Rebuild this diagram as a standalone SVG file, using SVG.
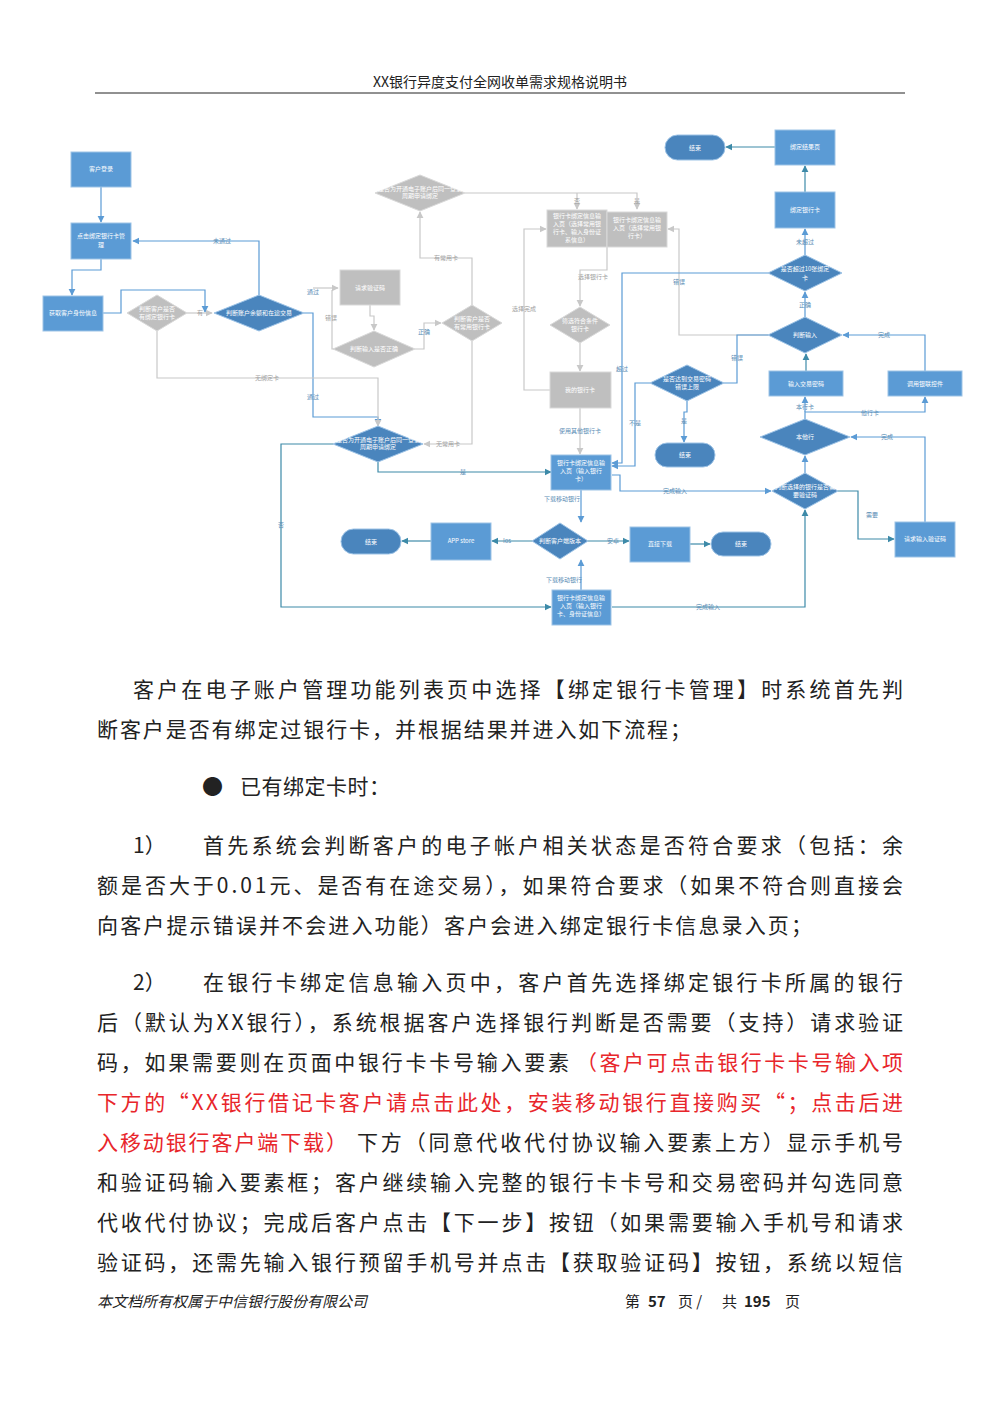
<svg xmlns="http://www.w3.org/2000/svg" width="1000" height="1415" viewBox="0 0 1000 1415">
<style>
.b{fill:#5b9bd5;stroke:#9dc3e6;stroke-width:1}
.d{fill:#4a85bd;stroke:#9dc3e6;stroke-width:1}
.g{fill:#bfbfbf;stroke:#d9d9d9;stroke-width:1}
.t{font-family:"Noto Sans CJK SC","Noto Sans",sans-serif;font-size:6px;fill:#fff;text-anchor:middle}
.l{font-family:"Noto Sans CJK SC",sans-serif;font-size:6px;fill:#5b8db5;text-anchor:middle}
.lg{font-family:"Noto Sans CJK SC",sans-serif;font-size:6px;fill:#a0a0a0;text-anchor:middle}
.cb{fill:none;stroke:#5b9bd5;stroke-width:1.2}
.cg{fill:none;stroke:#c8c8c8;stroke-width:1.2}
.ct{fill:none;stroke:#3d8aa8;stroke-width:1.2}
.p{font-family:"Noto Sans CJK SC","Noto Serif CJK SC",serif;font-size:21px;fill:#222}
.r{fill:#e8262b}
.f{font-family:"Noto Sans CJK SC",serif;font-size:15px;fill:#222}
</style>
<defs>
<marker id="ab" viewBox="0 0 10 10" refX="9" refY="5" markerWidth="6" markerHeight="6" orient="auto"><path d="M0,0L10,5L0,10z" fill="#5b9bd5"/></marker>
<marker id="ag" viewBox="0 0 10 10" refX="9" refY="5" markerWidth="6" markerHeight="6" orient="auto"><path d="M0,0L10,5L0,10z" fill="#c8c8c8"/></marker>
<marker id="at" viewBox="0 0 10 10" refX="9" refY="5" markerWidth="6" markerHeight="6" orient="auto"><path d="M0,0L10,5L0,10z" fill="#3d8aa8"/></marker>
</defs>
<rect width="1000" height="1415" fill="#fff"/>
<text x="500" y="87" font-family="Noto Sans CJK SC,serif" font-size="14" fill="#222" text-anchor="middle">XX银行异度支付全网收单需求规格说明书</text>
<line x1="95" y1="93" x2="905" y2="93" stroke="#222" stroke-width="1"/>

<g id="connectors">
<path class="cb" d="M101,187V222" marker-end="url(#ab)"/>
<path class="cb" d="M101,259V270H72V295" marker-end="url(#ab)"/>
<path class="cb" d="M103,313H121V290H205V312" marker-end="url(#ab)"/>
<path class="cg" d="M187,313H212" marker-end="url(#ag)"/>
<path class="cb" d="M259,295V241H133" marker-end="url(#ab)"/>
<path class="cb" d="M304,313H313V417H378V425" marker-end="url(#ab)"/>
<path class="cg" d="M313,288H338" marker-end="url(#ag)"/>
<path class="cg" d="M370,305V316H374V330" marker-end="url(#ag)"/>
<path class="cg" d="M334,349H332V290" />
<path class="cg" d="M415,349H424V323H441" marker-end="url(#ag)"/>
<path class="cg" d="M157,331V378H378V426" marker-end="url(#ag)"/>
<path class="cg" d="M472,305V258H420V212" marker-end="url(#ag)"/>
<path class="cg" d="M472,341V444H424" marker-end="url(#ag)"/>
<path class="cg" d="M465,193H637V209" marker-end="url(#ag)"/>
<path class="cg" d="M577,193V209" marker-end="url(#ag)"/>
<path class="cg" d="M607,247V270H580V306" marker-end="url(#ag)"/>
<path class="cg" d="M580,343V371" marker-end="url(#ag)"/>
<path class="cg" d="M550,390H524V229H546" marker-end="url(#ag)"/>
<path class="cg" d="M580,408V454" marker-end="url(#ag)"/>
<path class="cg" d="M768,335H679V229H668" marker-end="url(#ag)"/>
<path class="ct" d="M333,444H281V607H551" marker-end="url(#at)"/>
<path class="ct" d="M378,462V472H551" marker-end="url(#at)"/>
<path class="cb" d="M768,273H622V463H612" marker-end="url(#ab)"/>
<path class="cb" d="M650,383H635V466H612" marker-end="url(#ab)"/>
<path class="cb" d="M768,335H737V383H724"/>
<path class="cb" d="M687,401V412H684V442" marker-end="url(#ab)"/>
<path class="cb" d="M612,475H620V491H771" marker-end="url(#ab)"/>
<path class="cb" d="M581,490V522" marker-end="url(#ab)"/>
<path class="cb" d="M581,590V560" marker-end="url(#ab)"/>
<path class="ct" d="M532,541H492" marker-end="url(#at)"/>
<path class="ct" d="M431,541H402" marker-end="url(#at)"/>
<path class="ct" d="M588,541H629" marker-end="url(#at)"/>
<path class="ct" d="M690,544H710" marker-end="url(#at)"/>
<path class="ct" d="M612,607H805V510" marker-end="url(#at)"/>
<path class="ct" d="M838,491H858V539H894" marker-end="url(#at)"/>
<path class="cb" d="M925,522V437H851" marker-end="url(#ab)"/>
<path class="cb" d="M805,473V456" marker-end="url(#ab)"/>
<path class="cb" d="M805,419V412H925V397" marker-end="url(#ab)"/>
<path class="cb" d="M805,412V397" marker-end="url(#ab)"/>
<path class="ct" d="M806,371V354" marker-end="url(#at)"/>
<path class="cb" d="M925,371V335H843" marker-end="url(#ab)"/>
<path class="cb" d="M805,317V292" marker-end="url(#ab)"/>
<path class="cb" d="M805,255V229" marker-end="url(#ab)"/>
<path class="ct" d="M805,192V166" marker-end="url(#at)"/>
<path class="ct" d="M775,147H726" marker-end="url(#at)"/>
<g>
<text class="l" x="222" y="243">未通过</text>
<text class="lg" x="200" y="315">有</text>
<text class="l" x="313" y="294">通过</text>
<text class="l" x="313" y="399">通过</text>
<text class="lg" x="331" y="320">错误</text>
<text class="l" x="424" y="334">正确</text>
<text class="lg" x="267" y="380">无绑定卡</text>
<text class="lg" x="446" y="260">有常用卡</text>
<text class="lg" x="448" y="446">无常用卡</text>
<text class="lg" x="577" y="203">否</text>
<text class="lg" x="637" y="203">是</text>
<text class="lg" x="593" y="279">选择银行卡</text>
<text class="lg" x="524" y="311">选择完成</text>
<text class="l" x="580" y="433">使用其他银行卡</text>
<text class="l" x="679" y="284">错误</text>
<text class="l" x="622" y="371">超过</text>
<text class="l" x="737" y="360">错误</text>
<text class="l" x="635" y="425">不是</text>
<text class="l" x="684" y="423">是</text>
<text class="l" x="463" y="474">是</text>
<text class="l" x="281" y="527">否</text>
<text class="l" x="675" y="493">完成输入</text>
<text class="l" x="562" y="501">下载移动银行</text>
<text class="l" x="564" y="582">下载移动银行</text>
<text class="l" x="507" y="543">Ios</text>
<text class="l" x="613" y="543">安卓</text>
<text class="l" x="708" y="609">完成输入</text>
<text class="l" x="872" y="517">需要</text>
<text class="l" x="887" y="439">完成</text>
<text class="l" x="805" y="409">本行卡</text>
<text class="l" x="870" y="415">他行卡</text>
<text class="l" x="884" y="337">完成</text>
<text class="l" x="805" y="307">正确</text>
<text class="l" x="805" y="244">未超过</text>
</g>
</g>

<g id="n1"><rect class="b" x="71" y="152" width="60" height="35"/><text class="t" x="101" y="171">客户登录</text></g>
<g id="n2"><rect class="b" x="71" y="223" width="60" height="36"/><text class="t" x="101" y="238">点击绑定银行卡管</text><text class="t" x="101" y="247">理</text></g>
<g id="n3"><rect class="b" x="43" y="296" width="60" height="35"/><text class="t" x="73" y="315">获取客户身份信息</text></g>
<g id="n4"><polygon class="g" points="127,313 157,295 187,313 157,331"/><text class="t" x="157" y="311">判断客户是否</text><text class="t" x="157" y="319">有绑定银行卡</text></g>
<g id="n5"><polygon class="d" points="214,313 259,295 304,313 259,331"/><text class="t" x="259" y="315" font-size="5">判断账户余额和在途交易</text></g>
<g id="n6"><polygon class="g" points="375,193 420,175 465,193 420,211"/><text class="t" x="420" y="191" font-size="4.5">是否为开通电子账户后同一登录</text><text class="t" x="420" y="198" font-size="4.5">周期申请绑定</text></g>
<g id="n7"><rect class="g" x="340" y="270" width="60" height="35"/><text class="t" x="370" y="290">请求验证码</text></g>
<g id="n8"><polygon class="g" points="333,349 374,331 415,349 374,367"/><text class="t" x="374" y="351">判断输入是否正确</text></g>
<g id="n9"><polygon class="g" points="442,323 472,305 502,323 472,341"/><text class="t" x="472" y="321">判断客户是否</text><text class="t" x="472" y="329">有常用银行卡</text></g>
<g id="n10"><polygon class="d" points="333,444 378,426 423,444 378,462"/><text class="t" x="378" y="442" font-size="4.5">是否为开通电子账户后同一登录</text><text class="t" x="378" y="449" font-size="4.5">周期申请绑定</text></g>
<g id="n11"><rect class="g" x="547" y="210" width="60" height="37"/><text class="t" x="577" y="218">银行卡绑定信息输</text><text class="t" x="577" y="226">入页（选择常用银</text><text class="t" x="577" y="234">行卡、输入身份证</text><text class="t" x="577" y="242">系信息）</text></g>
<g id="n12"><rect class="g" x="607" y="212" width="60" height="35"/><text class="t" x="637" y="222">银行卡绑定信息输</text><text class="t" x="637" y="230">入页（选择常用银</text><text class="t" x="637" y="238">行卡）</text></g>
<g id="n13"><polygon class="g" points="550,325 580,307 610,325 580,343"/><text class="t" x="580" y="323">筛选符合条件</text><text class="t" x="580" y="331">银行卡</text></g>
<g id="n14"><rect class="g" x="550" y="372" width="61" height="36"/><text class="t" x="580" y="392">我的银行卡</text></g>
<g id="n15"><rect class="b" x="551" y="455" width="60" height="35"/><text class="t" x="581" y="465">银行卡绑定信息输</text><text class="t" x="581" y="473">入页（输入银行</text><text class="t" x="581" y="481">卡）</text></g>
<g id="n16"><rect class="d" x="665" y="135" width="60" height="25" rx="12.5"/><text class="t" x="695" y="150">结束</text></g>
<g id="n17"><rect class="b" x="775" y="130" width="60" height="35"/><text class="t" x="805" y="149">绑定结果页</text></g>
<g id="n18"><rect class="b" x="775" y="192" width="60" height="36"/><text class="t" x="805" y="212">绑定银行卡</text></g>
<g id="n19"><polygon class="d" points="768,273 805,255 842,273 805,291"/><text class="t" x="805" y="271">是否超过10张绑定</text><text class="t" x="805" y="280">卡</text></g>
<g id="n20"><polygon class="d" points="768,335 805,317 842,335 805,353"/><text class="t" x="805" y="337">判断输入</text></g>
<g id="n21"><rect class="b" x="769" y="371" width="74" height="25"/><text class="t" x="806" y="386">输入交易密码</text></g>
<g id="n22"><rect class="b" x="888" y="371" width="74" height="25"/><text class="t" x="925" y="386">调用银联控件</text></g>
<g id="n23"><polygon class="d" points="650,383 687,365 724,383 687,401"/><text class="t" x="687" y="381">是否达到交易密码</text><text class="t" x="687" y="389">错误上限</text></g>
<g id="n24"><rect class="d" x="655" y="443" width="60" height="24" rx="12"/><text class="t" x="685" y="457">结束</text></g>
<g id="n25"><polygon class="d" points="760,437 805,419 850,437 805,455"/><text class="t" x="805" y="439">本他行</text></g>
<g id="n26"><polygon class="d" points="772,491 805,473 838,491 805,509"/><text class="t" x="805" y="489" font-size="5.5">判断选择的银行是否需</text><text class="t" x="805" y="497" font-size="5.5">要验证码</text></g>
<g id="n27"><rect class="b" x="895" y="522" width="60" height="35"/><text class="t" x="925" y="541">请求输入验证码</text></g>
<g id="n28"><polygon class="d" points="532,541 560,523 588,541 560,559"/><text class="t" x="560" y="543">判断客户端版本</text></g>
<g id="n29"><rect class="b" x="431" y="523" width="60" height="37"/><text class="t" x="461" y="543">APP store</text></g>
<g id="n30"><rect class="d" x="341" y="529" width="60" height="25" rx="12.5"/><text class="t" x="371" y="544">结束</text></g>
<g id="n31"><rect class="b" x="630" y="527" width="60" height="35"/><text class="t" x="660" y="546">直接下载</text></g>
<g id="n32"><rect class="d" x="711" y="532" width="60" height="24" rx="12"/><text class="t" x="741" y="546">结束</text></g>
<g id="n33"><rect class="b" x="552" y="590" width="59" height="35"/><text class="t" x="581" y="600">银行卡绑定信息输</text><text class="t" x="581" y="608">入页（输入银行</text><text class="t" x="581" y="616">卡、身份证信息）</text></g>

<g id="body">
<text class="p" x="133" y="697" textLength="770" lengthAdjust="spacing">客户在电子账户管理功能列表页中选择【绑定银行卡管理】时系统首先判</text>
<text class="p" x="97" y="737" textLength="594" lengthAdjust="spacing">断客户是否有绑定过银行卡，并根据结果并进入如下流程；</text>
<text class="p" x="202" y="794">●</text>
<text class="p" x="240" y="794" textLength="150" lengthAdjust="spacing">已有绑定卡时：</text>
<text class="p" x="133" y="853">1）</text>
<text class="p" x="203" y="853" textLength="700" lengthAdjust="spacing">首先系统会判断客户的电子帐户相关状态是否符合要求（包括：余</text>
<text class="p" x="97" y="893" textLength="806" lengthAdjust="spacing">额是否大于0.01元、是否有在途交易），如果符合要求（如果不符合则直接会</text>
<text class="p" x="97" y="933" textLength="715" lengthAdjust="spacing">向客户提示错误并不会进入功能）客户会进入绑定银行卡信息录入页；</text>
<text class="p" x="133" y="990">2）</text>
<text class="p" x="203" y="990" textLength="700" lengthAdjust="spacing">在银行卡绑定信息输入页中，客户首先选择绑定银行卡所属的银行</text>
<text class="p" x="97" y="1030" textLength="806" lengthAdjust="spacing">后（默认为XX银行），系统根据客户选择银行判断是否需要（支持）请求验证</text>
<text class="p" x="97" y="1070" textLength="472" lengthAdjust="spacing">码，如果需要则在页面中银行卡卡号输入要素</text>
<text class="p r" x="576" y="1070" textLength="327" lengthAdjust="spacing">（客户可点击银行卡卡号输入项</text>
<text class="p r" x="97" y="1110" textLength="806" lengthAdjust="spacing">下方的“XX银行借记卡客户请点击此处，安装移动银行直接购买“；点击后进</text>
<text class="p r" x="97" y="1150" textLength="250" lengthAdjust="spacing">入移动银行客户端下载）</text>
<text class="p" x="357" y="1150" textLength="546" lengthAdjust="spacing">下方（同意代收代付协议输入要素上方）显示手机号</text>
<text class="p" x="97" y="1190" textLength="806" lengthAdjust="spacing">和验证码输入要素框；客户继续输入完整的银行卡卡号和交易密码并勾选同意</text>
<text class="p" x="97" y="1230" textLength="806" lengthAdjust="spacing">代收代付协议；完成后客户点击【下一步】按钮（如果需要输入手机号和请求</text>
<text class="p" x="97" y="1270" textLength="806" lengthAdjust="spacing">验证码，还需先输入银行预留手机号并点击【获取验证码】按钮，系统以短信</text>
</g>
<text x="97" y="1307" font-family="Noto Sans CJK SC,serif" font-size="15" font-style="italic" fill="#222">本文档所有权属于中信银行股份有限公司</text>
<text class="f" x="625" y="1307">第</text>
<text class="f" x="648" y="1307" font-weight="bold" font-size="17">57</text>
<text class="f" x="678" y="1307">页 /</text>
<text class="f" x="722" y="1307">共</text>
<text class="f" x="744" y="1307" font-weight="bold" font-size="17">195</text>
<text class="f" x="785" y="1307">页</text>
</svg>
